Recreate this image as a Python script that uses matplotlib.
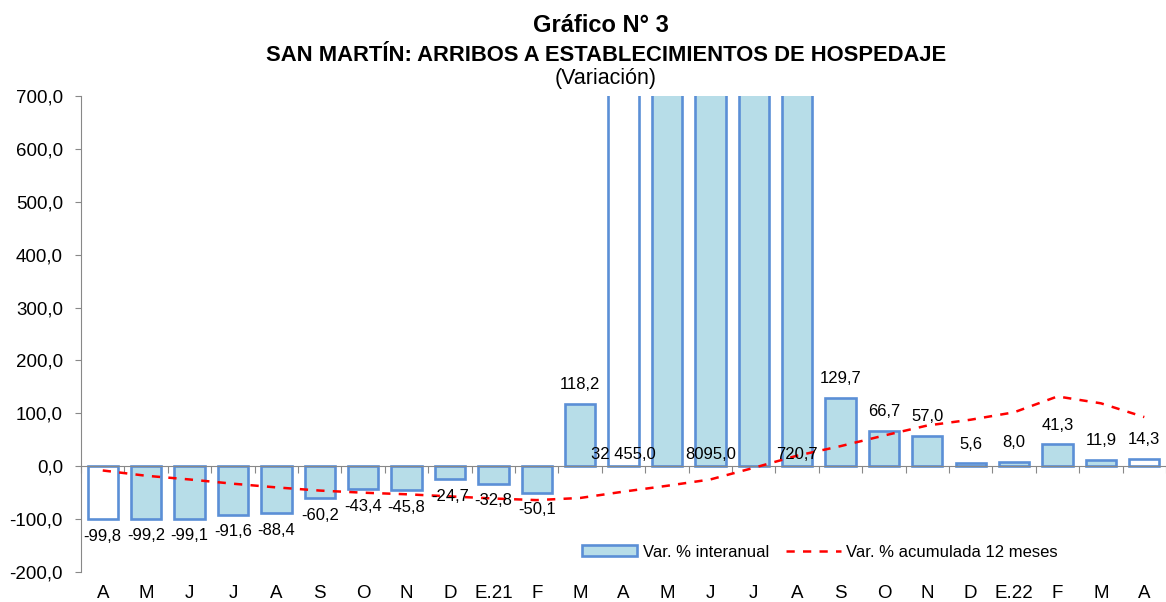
import numpy as np
import matplotlib
matplotlib.use("Agg")
from matplotlib import pyplot as plt
from matplotlib.patches import Patch
from matplotlib.lines import Line2D

plt.rcParams['font.family'] = ['Liberation Sans', 'DejaVu Sans']

# months Apr.2020 - Apr.2022
months = ["A", "M", "J", "J", "A", "S", "O", "N", "D", "E.21", "F", "M",
          "A", "M", "J", "J", "A", "S", "O", "N", "D", "E.22", "F", "M", "A"]
# Var. % interanual (May and Jul 2021 go off the chart, no label shown)
interanual = [-99.8, -99.2, -99.1, -91.6, -88.4, -60.2, -43.4, -45.8, -24.7, -32.8, -50.1, 118.2,
              32455.0, 3000.0, 8095.0, 1500.0, 720.7, 129.7, 66.7, 57.0, 5.6, 8.0, 41.3, 11.9, 14.3]
hidden_labels = [13, 15]
white_bars = [0, 12, 24]  # the April bars are drawn without fill
# Var. % acumulada 12 meses
acumulada = [-8, -18, -25, -33, -40, -46, -50, -53, -57, -61, -64, -60,
             -48, -37, -25, -3, 20, 38, 58, 77, 88, 102, 132, 119, 93]

def fmt(v):
    s = "{:.1f}".format(v).replace(".", ",")
    ent, dec = s.split(",")
    if abs(v) >= 10000:
        ent = ent[:-3] + " " + ent[-3:]
    return ent + "," + dec

fig = plt.figure(figsize=(11.66, 6.02), dpi=100)
ax = fig.add_axes([0.0695, 0.0498, 0.9305, 0.7907])

x = np.arange(len(months))
blue_edge = "#5B8FD6"
red_dash = (0, (3.3, 3.3))
fills = ["white" if i in white_bars else "#B7DDE8" for i in range(len(months))]
ax.bar(x, interanual, width=0.7, color=fills, edgecolor=blue_edge, linewidth=1.9, zorder=2)
ax.plot(x, acumulada, color="#FF0000", linestyle=red_dash, linewidth=1.8, zorder=3)

ax.set_ylim(-200, 700)
ax.set_xlim(-0.5, len(months) - 0.5)
ax.set_yticks(np.arange(-200, 701, 100))
ax.set_yticklabels([fmt(v) for v in np.arange(-200, 701, 100)], fontsize=13.5)
ax.tick_params(axis="y", length=4, color="#888888", pad=9)

# category axis crosses at zero, labels at the bottom
ax.spines["bottom"].set_position(("data", 0))
ax.spines["bottom"].set_color("#888888")
ax.spines["left"].set_color("#888888")
ax.spines["top"].set_visible(False)
ax.spines["right"].set_visible(False)
ax.set_xticks(np.arange(-0.5, len(months), 1.0))
ax.set_xticklabels([])
ax.tick_params(axis="x", length=5, color="#888888", direction="out")

sec = ax.secondary_xaxis(0.0)
sec.set_xticks(x)
sec.set_xticklabels(months, fontsize=13.5)
sec.tick_params(length=0, pad=9)
sec.spines["bottom"].set_visible(False)

# data labels
for i, v in enumerate(interanual):
    if i in hidden_labels:
        continue
    if v > 700:
        ax.text(i, 8, fmt(v), ha="center", va="bottom", fontsize=12, zorder=4)
    elif v < 0:
        ax.text(i, v - 18, fmt(v), ha="center", va="top", fontsize=12, zorder=4)
    else:
        ax.text(i, v + 22, fmt(v), ha="center", va="bottom", fontsize=12, zorder=4)

# titles
fig.text(0.515, 0.958, "Gráfico N° 3", ha="center", va="center", fontsize=17, fontweight="bold")
fig.text(0.52, 0.907, "SAN MARTÍN: ARRIBOS A ESTABLECIMIENTOS DE HOSPEDAJE", ha="center",
         va="center", fontsize=15.8, fontweight="bold")
fig.text(0.519, 0.869, "(Variación)", ha="center", va="center", fontsize=15.5)

handles = [Patch(facecolor="#B7DDE8", edgecolor=blue_edge, linewidth=1.9),
           Line2D([0], [0], color="#FF0000", linestyle=red_dash, linewidth=1.8)]
ax.legend(handles, ["Var. % interanual", "Var. % acumulada 12 meses"], ncol=2,
          loc="center", bbox_to_anchor=(0.681, 0.042), frameon=False, fontsize=12,
          handlelength=3.3, handleheight=0.6, columnspacing=1.0, handletextpad=0.35)

fig.savefig("out.png", dpi=100)
